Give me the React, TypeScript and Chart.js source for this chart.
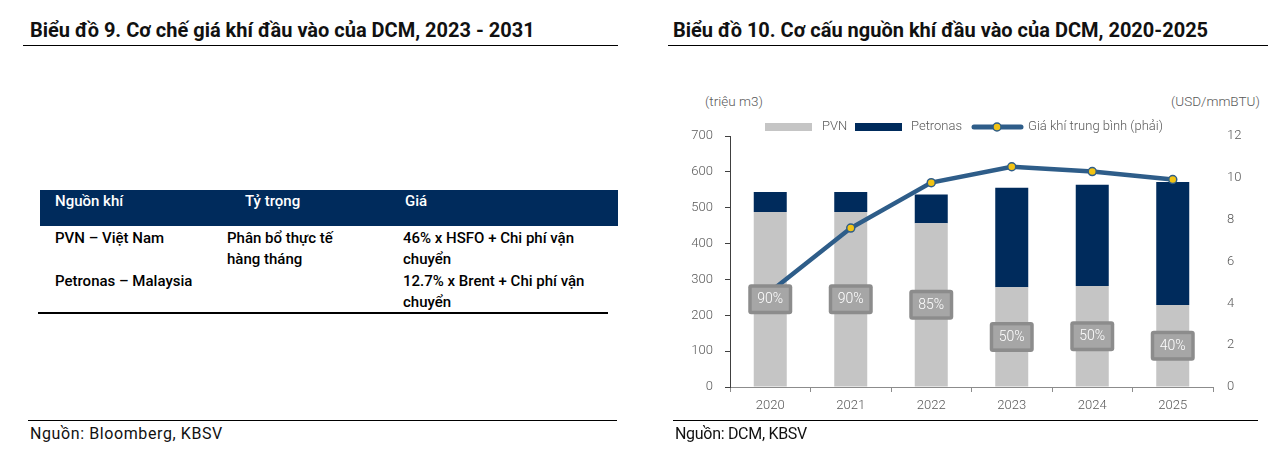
import React, { useEffect, useRef } from "react";
import { Chart, registerables } from "chart.js";

Chart.register(...registerables);

const years = ["2020", "2021", "2022", "2023", "2024", "2025"];
const pvnVolume = [488, 488, 457, 278, 282, 229];
const petronasVolume = [56, 56, 80, 278, 282, 343];
const avgGasPrice = [4.55, 7.6, 9.77, 10.53, 10.3, 9.92];
const pvnShareLabels = ["90%", "90%", "85%", "50%", "50%", "40%"];

const seriesNames = ["PVN", "Petronas", "Giá khí trung bình (phải)"];
const leftAxisTitle = "(triệu m3)";
const rightAxisTitle = "(USD/mmBTU)";

const tableHeader = ["Nguồn khí", "Tỷ trọng", "Giá"];
const tableRows = [
  ["PVN – Việt Nam", "Phân bổ thực tế\nhàng tháng", "46% x HSFO + Chi phí vận\nchuyển"],
  ["Petronas – Malaysia", "", "12.7% x Brent + Chi phí vận\nchuyển"],
];

const FONT = "Roboto, 'Noto Sans', sans-serif";
const GRAY_PVN = "#c5c5c5";
const NAVY = "#002b5c";
const LINE = "#2e5d89";
const DOT = "#f2c314";
const TEXT = "#595959";

const overlayPlugin = {
  id: "overlay",
  afterDatasetsDraw(chart: any) {
    const ctx = chart.ctx;
    const meta = chart.getDatasetMeta(1);
    ctx.save();
    meta.data.forEach((bar: any, i: number) => {
      const cx = bar.x;
      const cy = (bar.y + bar.base) / 2;
      const w = 44;
      const h = 30;
      const x = cx - w / 2;
      const y = cy - h / 2;
      ctx.fillStyle = "#8c8c8c";
      ctx.beginPath();
      (ctx as any).roundRect(x, y, w, h, 3);
      ctx.fill();
      ctx.fillStyle = "#a6a6a6";
      ctx.fillRect(x + 3.5, y + 3.5, w - 7, h - 7);
      ctx.fillStyle = "#ffffff";
      ctx.font = `300 14px ${FONT}`;
      ctx.textAlign = "center";
      ctx.textBaseline = "middle";
      ctx.fillText(pvnShareLabels[i], cx, cy + 0.5);
    });
    ctx.restore();
  },
  afterDraw(chart: any) {
    const ctx = chart.ctx;
    ctx.save();
    const ly = 37;
    ctx.font = `300 13px ${FONT}`;
    ctx.textBaseline = "middle";
    ctx.textAlign = "left";
    ctx.fillStyle = GRAY_PVN;
    ctx.fillRect(85, ly - 4, 47, 8);
    ctx.fillStyle = TEXT;
    ctx.fillText(seriesNames[0], 142, ly);
    ctx.fillStyle = NAVY;
    ctx.fillRect(175, ly - 4, 47, 8);
    ctx.fillStyle = TEXT;
    ctx.fillText(seriesNames[1], 231, ly);
    ctx.strokeStyle = LINE;
    ctx.lineWidth = 5;
    ctx.lineCap = "round";
    ctx.beginPath();
    ctx.moveTo(294, ly);
    ctx.lineTo(341, ly);
    ctx.stroke();
    ctx.beginPath();
    ctx.arc(317, ly, 4, 0, Math.PI * 2);
    ctx.fillStyle = DOT;
    ctx.fill();
    ctx.lineWidth = 1.5;
    ctx.stroke();
    ctx.fillStyle = TEXT;
    ctx.fillText(seriesNames[2], 348, ly);
    ctx.restore();
  },
};

function GasChart() {
  const ref = useRef<HTMLCanvasElement>(null);
  useEffect(() => {
    if (!ref.current) return;
    const chart = new Chart(ref.current, {
      type: "bar",
      data: {
        labels: years,
        datasets: [
          {
            type: "line",
            label: seriesNames[2],
            data: avgGasPrice,
            yAxisID: "y1",
            borderColor: LINE,
            borderWidth: 4.5,
            pointRadius: 4,
            pointBackgroundColor: DOT,
            pointBorderColor: LINE,
            pointBorderWidth: 1.5,
            tension: 0,
            order: 0,
          } as any,
          {
            label: seriesNames[0],
            data: pvnVolume,
            backgroundColor: GRAY_PVN,
            yAxisID: "y",
            stack: "s",
            order: 1,
            barPercentage: 0.41,
            categoryPercentage: 1,
          },
          {
            label: seriesNames[1],
            data: petronasVolume,
            backgroundColor: NAVY,
            yAxisID: "y",
            stack: "s",
            order: 2,
            barPercentage: 0.41,
            categoryPercentage: 1,
          },
        ],
      },
      options: {
        responsive: false,
        animation: false,
        devicePixelRatio: 1,
        layout: { padding: { top: 46, left: 0, right: 0, bottom: 0 } },
        plugins: { legend: { display: false }, tooltip: { enabled: false } },
        scales: {
          x: {
            stacked: true,
            offset: true,
            afterFit: (s: any) => {
              s.height = 38;
            },
            grid: {
              offset: true,
              drawOnChartArea: false,
              drawTicks: true,
              tickLength: 5,
              color: "#8c8c8c",
            },
            border: { color: "#8c8c8c", width: 1 },
            ticks: { color: TEXT, font: { family: FONT, size: 13, weight: 300 as any }, padding: 6 },
          },
          y: {
            stacked: true,
            position: "left",
            min: 0,
            max: 700,
            afterFit: (s: any) => {
              s.width = 50;
            },
            grid: { drawOnChartArea: false, drawTicks: true, tickLength: 5, color: "#404040" },
            border: { color: "#404040", width: 1 },
            ticks: { stepSize: 100, color: TEXT, font: { family: FONT, size: 13, weight: 300 as any }, padding: 12 },
          },
          y1: {
            position: "right",
            min: 0,
            max: 12,
            afterFit: (s: any) => {
              s.width = 65;
            },
            grid: { display: false, drawTicks: false },
            border: { display: false },
            ticks: { stepSize: 2, color: TEXT, font: { family: FONT, size: 13, weight: 300 as any }, padding: 14 },
          },
        },
      },
      plugins: [overlayPlugin],
    });
    return () => chart.destroy();
  }, []);
  return (
    <canvas
      ref={ref}
      width={598}
      height={335}
      style={{ position: "absolute", left: 680, top: 90, width: 598, height: 335 }}
    />
  );
}

const abs = (l: number, t: number, extra: React.CSSProperties = {}): React.CSSProperties => ({
  position: "absolute",
  left: l,
  top: t,
  whiteSpace: "pre",
  ...extra,
});

export default function App() {
  const colX = [55, 227, 403];
  const headX = [55, 245, 405];
  const rowTop = [228, 271];
  return (
    <div
      style={{
        position: "absolute",
        left: 0,
        top: 0,
        width: 1278,
        height: 451,
        background: "#fff",
        fontFamily: FONT,
        overflow: "hidden",
      }}
    >
      <div style={abs(30, 17, { fontSize: 20, fontWeight: 700, color: "#111", lineHeight: "26px" })}>
        Biểu đồ 9. Cơ chế giá khí đầu vào của DCM, 2023 - 2031
      </div>
      <div style={abs(23, 45, { width: 595, height: 1, background: "#000" })} />
      <div style={abs(40, 190, { width: 578, height: 36, background: NAVY })} />
      {tableHeader.map((h, i) => (
        <div key={h} style={abs(headX[i], 191, { color: "#fff", fontSize: 15, fontWeight: 500, lineHeight: "21px" })}>
          {h}
        </div>
      ))}
      {tableRows.map((row, r) =>
        row.map((cell, c) => (
          <div
            key={r + "-" + c}
            style={abs(colX[c], rowTop[r], { color: "#000", fontSize: 15, fontWeight: 500, lineHeight: "21px" })}
          >
            {cell}
          </div>
        ))
      )}
      <div style={abs(38, 312, { width: 570, height: 2, background: "#000" })} />
      <div style={abs(28, 420, { width: 589, height: 1, background: "#000" })} />
      <div style={abs(30, 423, { fontSize: 16, color: "#111", lineHeight: "21px", letterSpacing: 0.6 })}>
        Nguồn: Bloomberg, KBSV
      </div>

      <div style={abs(673, 17, { fontSize: 20, fontWeight: 700, color: "#111", lineHeight: "26px" })}>
        Biểu đồ 10. Cơ cấu nguồn khí đầu vào của DCM, 2020-2025
      </div>
      <div style={abs(668, 45, { width: 600, height: 1, background: "#000" })} />
      <div style={abs(705, 92, { fontSize: 13.5, fontWeight: 300, color: TEXT, lineHeight: "18px" })}>{leftAxisTitle}</div>
      <div style={abs(1171, 92, { fontSize: 13.5, fontWeight: 300, color: TEXT, lineHeight: "18px" })}>{rightAxisTitle}</div>
      <GasChart />
      <div style={abs(673, 420, { width: 585, height: 1, background: "#000" })} />
      <div style={abs(675, 423, { fontSize: 16, color: "#111", lineHeight: "21px", letterSpacing: -0.3 })}>
        Nguồn: DCM, KBSV
      </div>
    </div>
  );
}
